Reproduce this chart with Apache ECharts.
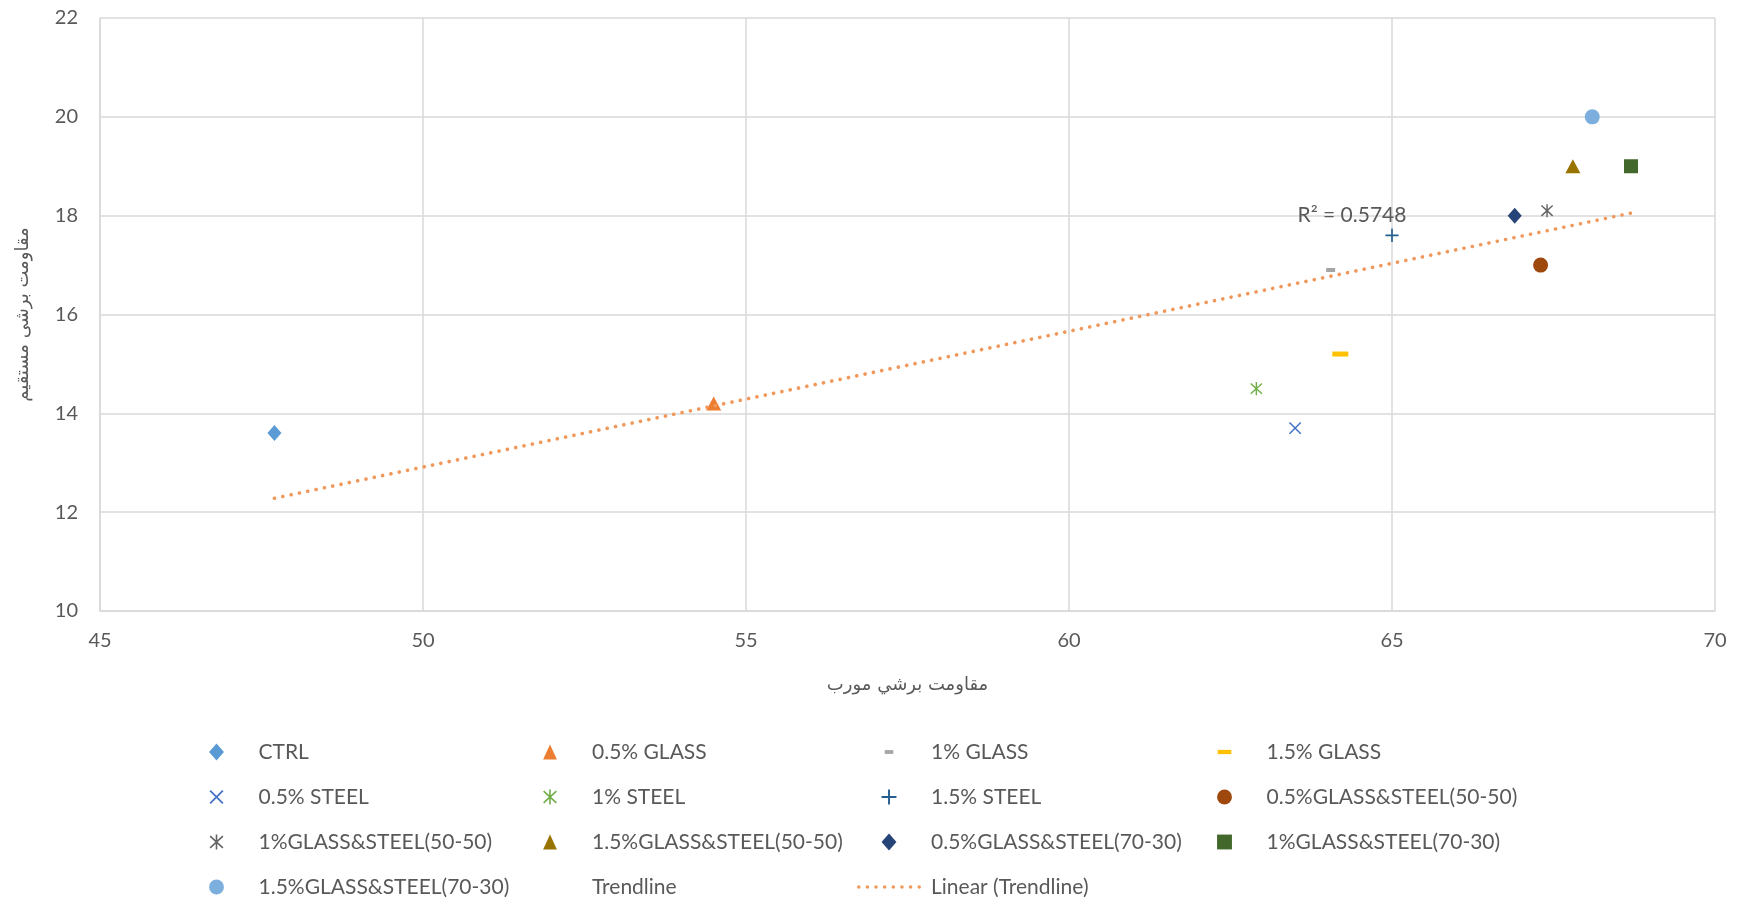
<!DOCTYPE html>
<html>
<head>
<meta charset="utf-8">
<title>Shear strength scatter</title>
<script src="https://cdn.jsdelivr.net/npm/echarts@6/dist/echarts.min.js"></script>
<style>
  html, body { margin: 0; padding: 0; background: #ffffff; }
  #chart { width: 1739px; height: 902px; }
</style>
</head>
<body>
<div id="chart"></div>
<script>
// ---- data ----
const mixNames = [
  'CTRL', '0.5% GLASS', '1% GLASS', '1.5% GLASS',
  '0.5% STEEL', '1% STEEL', '1.5% STEEL', '0.5%GLASS&STEEL(50-50)',
  '1%GLASS&STEEL(50-50)', '1.5%GLASS&STEEL(50-50)', '0.5%GLASS&STEEL(70-30)', '1%GLASS&STEEL(70-30)',
  '1.5%GLASS&STEEL(70-30)'
];
// diagonal shear strength (x)
const diagonalShear = [47.7, 54.5, 64.05, 64.2, 63.5, 62.9, 65.0, 67.3, 67.4, 67.8, 66.9, 68.7, 68.1];
// direct shear strength (y)
const directShear = [13.6, 14.2, 16.9, 15.2, 13.7, 14.5, 17.6, 17.0, 18.1, 19.0, 18.0, 19.0, 20.0];

const xTicks = [45, 50, 55, 60, 65, 70];
const yTicks = [10, 12, 14, 16, 18, 20, 22];

const trendSeriesName = 'Trendline';
const trendFitName = 'Linear (Trendline)';
const r2Text = 'R² = 0.5748';

const xAxisTitle = 'مقاومت برشي مورب';
const yAxisTitle = 'مقاومت برشی مستقیم';

// ---- marker shapes ----
// thin filled bar between two points, used to build stroke-like markers
function seg(x1, y1, x2, y2, w) {
  const dx = x2 - x1, dy = y2 - y1, L = Math.hypot(dx, dy);
  const nx = -dy / L * w / 2, ny = dx / L * w / 2;
  return 'M' + (x1 + nx) + ',' + (y1 + ny) + 'L' + (x2 + nx) + ',' + (y2 + ny) +
         'L' + (x2 - nx) + ',' + (y2 - ny) + 'L' + (x1 - nx) + ',' + (y1 - ny) + 'Z';
}
const BOX16 = 'M0,0M16,16';
const shapeX = 'path://' + BOX16 + seg(2, 2, 14, 14, 1.6) + seg(14, 2, 2, 14, 1.6);
const shapePlus = 'path://' + BOX16 + seg(8, 1, 8, 15, 1.8) + seg(1, 8, 15, 8, 1.8);
const shapeStar = 'path://' + BOX16 + seg(2, 2.5, 14, 13.5, 1.5) + seg(14, 2.5, 2, 13.5, 1.5) +
  seg(8, 1, 8, 15, 1.5);
const shapeShortDash = 'path://M0,0M18,18M4.5,7h9v4h-9z';
const shapeLongDash = 'path://M0,0M20,20M2,7.5h16v5h-16z';
// square-boxed outlines so legend icons keep their proportions
const iconDiamond = 'path://M0,0M16,16M8,0L15,8L8,16L1,8Z';
const iconTriangle = 'path://M0,0M16,16M8,1L14.5,15L1.5,15Z';
const iconSquare = 'path://M0,0M16,16M1,1h14v14h-14z';
const iconCircle = 'path://M0,0M16,16M1,8a7,7 0 1,0 14,0a7,7 0 1,0 -14,0Z';

// dotted-line legend icon: eight dots across a 64 x 14 box
function dottedIcon() {
  let p = 'path://M0,0M64,14';
  const r = 1.8;
  for (let i = 0; i < 8; i++) {
    const cx = 32 + (i - 3.5) * 8.7;
    p += 'M' + (cx - r) + ',7a' + r + ',' + r + ' 0 1,0 ' + (2 * r) + ',0a' + r + ',' + r + ' 0 1,0 ' + (-2 * r) + ',0Z';
  }
  return p;
}

const markerStyles = [
  { symbol: 'diamond', size: [14, 16], color: '#5B9BD5', icon: iconDiamond },
  { symbol: 'triangle', size: [15, 14], color: '#ED7D31', icon: iconTriangle },
  { symbol: shapeShortDash, size: 18, color: '#A5A5A5' },
  { symbol: shapeLongDash, size: 20, color: '#FFC000' },
  { symbol: shapeX, size: 15, color: '#4472C4' },
  { symbol: shapeStar, size: 15, color: '#70AD47' },
  { symbol: shapePlus, size: 15, color: '#255E91' },
  { symbol: 'circle', size: 15, color: '#9E480E', icon: iconCircle },
  { symbol: shapeStar, size: 15, color: '#636363' },
  { symbol: 'triangle', size: [15, 14], color: '#997300', icon: iconTriangle },
  { symbol: 'diamond', size: [14, 16], color: '#264478', icon: iconDiamond },
  { symbol: 'rect', size: 14, color: '#43682B', icon: iconSquare },
  { symbol: 'circle', size: 15, color: '#7CAFDD', icon: iconCircle }
];
const trendColor = '#F1975A';

// least-squares line through all points
function linearFit(xs, ys) {
  const n = xs.length;
  const mx = xs.reduce((a, b) => a + b, 0) / n;
  const my = ys.reduce((a, b) => a + b, 0) / n;
  let sxy = 0, sxx = 0;
  for (let i = 0; i < n; i++) {
    sxy += (xs[i] - mx) * (ys[i] - my);
    sxx += (xs[i] - mx) * (xs[i] - mx);
  }
  const slope = sxy / sxx;
  return { slope: slope, intercept: my - slope * mx };
}
const fit = linearFit(diagonalShear, directShear);
const xMin = Math.min.apply(null, diagonalShear);
const xMax = Math.max.apply(null, diagonalShear);
const fitLine = [
  [xMin, fit.intercept + fit.slope * xMin],
  [xMax, fit.intercept + fit.slope * xMax]
];
const r2Anchor = [64.38, 18.0];

// ---- chart ----
const textColor = '#595959';
const gridColor = '#D9D9D9';
const latin = 'Lato, "Open Sans", sans-serif';
const arabic = '"DejaVu Sans", sans-serif';

const series = mixNames.map(function (name, i) {
  return {
    name: name,
    type: 'scatter',
    data: [[diagonalShear[i], directShear[i]]],
    symbol: markerStyles[i].symbol,
    symbolSize: markerStyles[i].size,
    itemStyle: { color: markerStyles[i].color, opacity: 1 },
    emphasis: { disabled: true },
    silent: true
  };
});

series.push({
  name: trendSeriesName,
  type: 'scatter',
  data: diagonalShear.map(function (x, i) { return [x, directShear[i]]; }),
  symbol: 'none',
  symbolSize: 0,
  itemStyle: { color: 'rgba(0,0,0,0)' },
  silent: true
});

series.push({
  name: trendFitName,
  type: 'line',
  data: fitLine,
  symbol: 'none',
  showSymbol: false,
  lineStyle: { color: trendColor, width: 3.6, type: [0.1, 8.4], cap: 'round' },
  itemStyle: { color: trendColor },
  emphasis: { disabled: true },
  silent: true,
  z: 5,
  markPoint: {
    symbol: 'rect',
    symbolSize: 1,
    silent: true,
    itemStyle: { color: 'rgba(0,0,0,0)' },
    label: {
      show: true,
      position: 'inside',
      formatter: r2Text,
      color: textColor,
      fontSize: 21,
      fontFamily: latin
    },
    data: [{ coord: r2Anchor }]
  }
});

// legend laid out as four columns, filled row by row
const legendOrder = mixNames.concat([trendSeriesName, trendFitName]);
function legendEntry(name) {
  const i = mixNames.indexOf(name);
  if (name === trendFitName) return { name: name, icon: dottedIcon() };
  if (i >= 0 && markerStyles[i].icon) return { name: name, icon: markerStyles[i].icon };
  return { name: name };
}
const columnLeft = [208, 518, 857, 1216];
const legends = columnLeft.map(function (left, c) {
  return {
    data: legendOrder.filter(function (n, k) { return k % 4 === c; }).map(legendEntry),
    left: left,
    top: 733,
    height: 200,
    padding: 0,
    orient: 'vertical',
    itemWidth: 64,
    itemHeight: 17,
    itemGap: 7,
    selectedMode: false,
    textStyle: {
      color: textColor,
      fontSize: 21,
      fontFamily: latin,
      lineHeight: 38,
      padding: [0, 0, 0, 5]
    }
  };
});

const option = {
  animation: false,
  backgroundColor: '#ffffff',
  grid: { left: 100, right: 24, top: 18, bottom: 291, containLabel: false },
  xAxis: {
    type: 'value',
    min: xTicks[0],
    max: xTicks[xTicks.length - 1],
    interval: xTicks[1] - xTicks[0],
    axisLine: { show: true, lineStyle: { color: gridColor, width: 1.5 } },
    axisTick: { show: false },
    splitLine: { show: true, lineStyle: { color: gridColor, width: 1.5 } },
    axisLabel: { color: textColor, fontSize: 20, fontFamily: latin, margin: 20 },
    name: xAxisTitle,
    nameLocation: 'middle',
    nameGap: 65,
    nameTextStyle: { color: textColor, fontSize: 18, fontFamily: arabic }
  },
  yAxis: {
    type: 'value',
    min: yTicks[0],
    max: yTicks[yTicks.length - 1],
    interval: yTicks[1] - yTicks[0],
    axisLine: { show: true, lineStyle: { color: gridColor, width: 1.5 } },
    axisTick: { show: false },
    splitLine: { show: true, lineStyle: { color: gridColor, width: 1.5 } },
    axisLabel: { color: textColor, fontSize: 20, fontFamily: latin, margin: 22 },
    name: yAxisTitle,
    nameLocation: 'middle',
    nameGap: 68,
    nameTextStyle: { color: textColor, fontSize: 18, fontFamily: arabic }
  },
  legend: legends,
  series: series
};

const chart = echarts.init(document.getElementById('chart'), null, { renderer: 'canvas' });
chart.setOption(option);
</script>
</body>
</html>
